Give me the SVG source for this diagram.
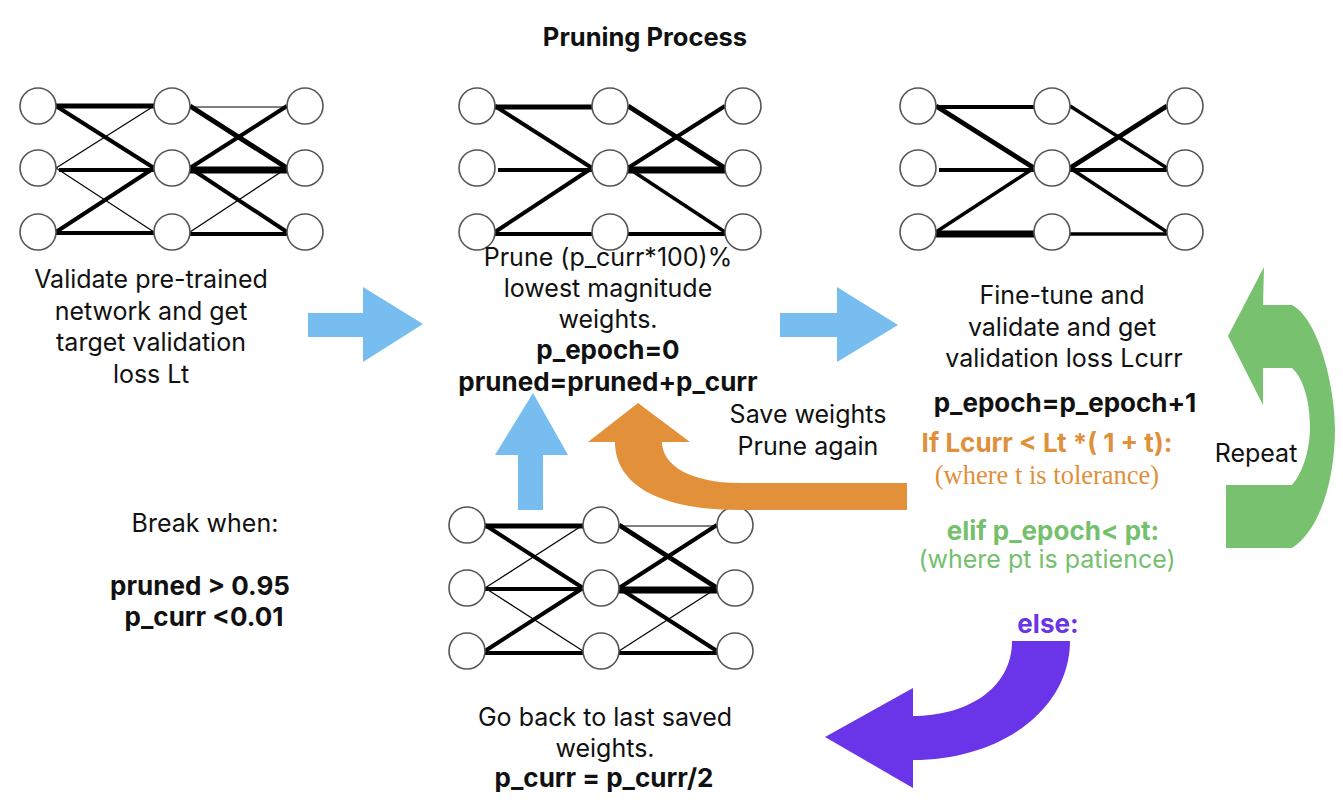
<svg xmlns="http://www.w3.org/2000/svg" width="1343" height="804" viewBox="0 0 1343 804">
<style>
text{font-family:Inter,"Liberation Sans",sans-serif;font-size:25px;fill:#111;text-anchor:middle}
.b{font-weight:bold;font-size:26px}
.t{font-size:25.5px;font-weight:bold}
.or{fill:#e0903a}
.gr{fill:#75c06d}
.pu{fill:#6a35e8}
.serif{font-family:"Liberation Serif",serif;font-size:26.5px}
.n circle{fill:#fff;stroke:#555;stroke-width:1.6}
.n line{stroke:#000}
.e1{stroke-width:1.2}
.e3{stroke-width:3.5}
.e4{stroke-width:4}
.e5{stroke-width:5}
.e7{stroke-width:7}
.blue{fill:#77bdef}
</style>
<text class="t" x="645" y="46">Pruning Process</text>

<g id="net1" class="n">
<line class="e5" x1="56" y1="106" x2="154" y2="106"/>
<line class="e4" x1="56" y1="106" x2="154" y2="168"/>
<line class="e1" x1="56" y1="168" x2="154" y2="106"/>
<line class="e4" x1="59" y1="170" x2="154" y2="170"/>
<line class="e1" x1="56" y1="168" x2="154" y2="232"/>
<line class="e4" x1="56" y1="232" x2="154" y2="168"/>
<line class="e4" x1="56" y1="233" x2="154" y2="233"/>
<line class="e1" x1="190" y1="107" x2="287" y2="107"/>
<line class="e5" x1="190" y1="106" x2="287" y2="168"/>
<line class="e4" x1="190" y1="168" x2="287" y2="106"/>
<line class="e7" x1="190" y1="170" x2="287" y2="170"/>
<line class="e4" x1="190" y1="168" x2="287" y2="232"/>
<line class="e1" x1="190" y1="232" x2="287" y2="168"/>
<line class="e4" x1="190" y1="234" x2="287" y2="234"/>
<circle cx="38" cy="106" r="18"/><circle cx="38" cy="168" r="18"/><circle cx="38" cy="232" r="18"/>
<circle cx="172" cy="106" r="18"/><circle cx="172" cy="168" r="18"/><circle cx="172" cy="232" r="18"/>
<circle cx="305" cy="106" r="18"/><circle cx="305" cy="168" r="18"/><circle cx="305" cy="232" r="18"/>
</g>

<g id="net2" class="n">
<line class="e5" x1="495" y1="107" x2="592" y2="107"/>
<line class="e4" x1="495" y1="106" x2="592" y2="168"/>
<line class="e4" x1="498" y1="170" x2="592" y2="170"/>
<line class="e4" x1="495" y1="232" x2="592" y2="168"/>
<line class="e4" x1="495" y1="234" x2="592" y2="234"/>
<line class="e5" x1="628" y1="106" x2="725" y2="168"/>
<line class="e4" x1="628" y1="168" x2="725" y2="106"/>
<line class="e7" x1="628" y1="170" x2="725" y2="170"/>
<line class="e3" x1="628" y1="168" x2="725" y2="232"/>
<line class="e4" x1="628" y1="234" x2="725" y2="234"/>
<circle cx="477" cy="106" r="18"/><circle cx="477" cy="168" r="18"/><circle cx="477" cy="232" r="18"/>
<circle cx="610" cy="106" r="18"/><circle cx="610" cy="168" r="18"/><circle cx="610" cy="232" r="18"/>
<circle cx="743" cy="106" r="18"/><circle cx="743" cy="168" r="18"/><circle cx="743" cy="232" r="18"/>
</g>

<g id="net3" class="n">
<line class="e4" x1="936" y1="107" x2="1034" y2="107"/>
<line class="e5" x1="936" y1="106" x2="1034" y2="168"/>
<line class="e4" x1="939" y1="170" x2="1034" y2="170"/>
<line class="e3" x1="936" y1="232" x2="1034" y2="168"/>
<line class="e7" x1="936" y1="234" x2="1034" y2="234"/>
<line class="e3" x1="1070" y1="106" x2="1167" y2="168"/>
<line class="e5" x1="1070" y1="168" x2="1167" y2="106"/>
<line class="e4" x1="1070" y1="170" x2="1167" y2="170"/>
<line class="e3" x1="1070" y1="168" x2="1167" y2="232"/>
<line class="e3" x1="1070" y1="234" x2="1167" y2="234"/>
<circle cx="918" cy="106" r="18"/><circle cx="918" cy="168" r="18"/><circle cx="918" cy="232" r="18"/>
<circle cx="1052" cy="106" r="18"/><circle cx="1052" cy="168" r="18"/><circle cx="1052" cy="232" r="18"/>
<circle cx="1185" cy="106" r="18"/><circle cx="1185" cy="168" r="18"/><circle cx="1185" cy="232" r="18"/>
</g>

<g id="net4" class="n">
<line class="e5" x1="485" y1="526" x2="583" y2="526"/>
<line class="e4" x1="485" y1="525" x2="583" y2="588"/>
<line class="e1" x1="485" y1="588" x2="583" y2="525"/>
<line class="e4" x1="485" y1="589" x2="583" y2="589"/>
<line class="e1" x1="485" y1="588" x2="583" y2="651"/>
<line class="e4" x1="485" y1="651" x2="583" y2="588"/>
<line class="e4" x1="485" y1="653" x2="583" y2="653"/>
<line class="e1" x1="619" y1="526" x2="717" y2="526"/>
<line class="e5" x1="619" y1="525" x2="717" y2="588"/>
<line class="e4" x1="619" y1="588" x2="717" y2="525"/>
<line class="e7" x1="619" y1="590" x2="717" y2="590"/>
<line class="e4" x1="619" y1="588" x2="717" y2="651"/>
<line class="e1" x1="619" y1="651" x2="717" y2="588"/>
<line class="e4" x1="619" y1="653" x2="717" y2="653"/>
<circle cx="467" cy="525" r="18"/><circle cx="467" cy="588" r="18"/><circle cx="467" cy="651" r="18"/>
<circle cx="601" cy="525" r="18"/><circle cx="601" cy="588" r="18"/><circle cx="601" cy="651" r="18"/>
<circle cx="735" cy="525" r="18"/><circle cx="735" cy="588" r="18"/><circle cx="735" cy="651" r="18"/>
</g>

<g id="connectors">
<polygon class="blue" points="308,313 363,313 363,287 423,324 363,362 363,337 308,337"/>
<polygon class="blue" points="780,313 837,313 837,287 898,325 837,362 837,337 780,337"/>
<polygon class="blue" points="518,510 518,455 495,455 533,393 568,455 543,455 543,510"/>
<path fill="#e2913a" d="M907,483 L740,483 C690,483 662,465 662,442 L690,442 L638,403 L588,442 L615,442 C615,485 660,510 740,510 L907,510 Z"/>
<path fill="#77c16f" d="M1264,267 L1263,305 L1292,305 C1320,320 1335,390 1335,428 C1335,480 1320,530 1292,548 L1226,548 L1226,485 L1292,485 C1305,470 1310,445 1310,427 C1310,405 1305,380 1292,368 L1263,368 L1263,405 L1228,336 Z"/>
<path fill="#6a35e8" d="M1012,641 L1070,641 C1070,710 1000,760 913,760 L913,788 L825,737 L913,688 L913,716 C965,716 1012,690 1012,641 Z"/>
</g>

<g id="label1">
<text x="151" y="288">Validate pre-trained</text>
<text x="151" y="320">network and get</text>
<text x="151" y="351">target validation</text>
<text x="151" y="383">loss Lt</text>
</g>
<g id="label2">
<text x="608" y="266">Prune (p_curr*100)%</text>
<text x="608" y="297">lowest magnitude</text>
<text x="608" y="328">weights.</text>
<text class="b" x="608" y="359">p_epoch=0</text>
<text class="b" x="608" y="391">pruned=pruned+p_curr</text>
</g>
<g id="label3">
<text x="1062" y="304">Fine-tune and</text>
<text x="1062" y="336">validate and get</text>
<text x="1064" y="367">validation loss Lcurr</text>
<text class="b" x="1065" y="412">p_epoch=p_epoch+1</text>
<text class="b or" x="1047" y="452">If Lcurr &lt; Lt *( 1 + t):</text>
<text class="serif or" x="1047" y="484">(where t is tolerance)</text>
<text class="b gr" x="1053" y="540">elif p_epoch&lt; pt:</text>
<text class="gr" x="1047" y="568">(where pt is patience)</text>
</g>
<g id="label-save">
<text x="808" y="423">Save weights</text>
<text x="808" y="455">Prune again</text>
</g>
<text x="1256" y="462">Repeat</text>
<g id="label-break">
<text x="205" y="532">Break when:</text>
<text class="b" x="200" y="595">pruned &gt; 0.95</text>
<text class="b" x="204" y="626">p_curr &lt;0.01</text>
</g>
<text class="b pu" x="1048" y="633">else:</text>
<g id="label4">
<text x="605" y="726">Go back to last saved</text>
<text x="605" y="757">weights.</text>
<text class="b" x="604" y="787">p_curr = p_curr/2</text>
</g>
</svg>
